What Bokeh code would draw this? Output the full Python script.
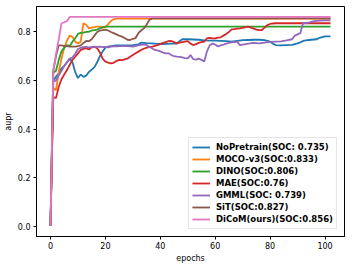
from bokeh.plotting import figure
from bokeh.models import Range1d, FixedTicker, CustomJSTickFormatter
from bokeh.embed import file_html
from bokeh.resources import INLINE

# ---- data ----
np_x = [0,1,2,3,4,5,6,7,8,9,10,11,12,13,14,15,16,17,18,19,20,21,22,24,26,28,30,32,33,35,38,41,44,46,47,48,50,52,54,56,58,60,62,64,66,68,70,72,74,76,78,80,81,82,84,86,88,89,90,91,92,93,95,97,98,99,100,102]
np_y = [0,0.60,0.615,0.63,0.65,0.66,0.675,0.69,0.675,0.635,0.61,0.625,0.615,0.62,0.635,0.645,0.655,0.675,0.70,0.72,0.735,0.74,0.742,0.745,0.745,0.745,0.746,0.749,0.756,0.754,0.752,0.750,0.752,0.752,0.762,0.770,0.770,0.769,0.768,0.765,0.764,0.764,0.763,0.762,0.760,0.763,0.766,0.767,0.768,0.768,0.766,0.760,0.752,0.746,0.745,0.746,0.747,0.750,0.753,0.757,0.763,0.765,0.768,0.770,0.776,0.779,0.782,0.782]

moco_x = [0,1,2,3,4,5,6,7,8,9,10,11,12,13,14,15,16,17,18,19,20,21,22,23,24,102]
moco_y = [0,0.57,0.56,0.636,0.69,0.735,0.765,0.785,0.78,0.76,0.753,0.76,0.836,0.83,0.815,0.818,0.82,0.822,0.822,0.818,0.82,0.832,0.845,0.852,0.855,0.855]

dino_x = [0,1,2,3,4,5,6,7,8,9,10,11,12,13,14,15,16,17,18,19,20,102]
dino_y = [0,0.632,0.64,0.685,0.72,0.735,0.746,0.742,0.76,0.774,0.792,0.796,0.797,0.800,0.801,0.806,0.808,0.81,0.815,0.82,0.822,0.822]

mae_x = list(range(0, 83)) + [102]
mae_y = [0,0.53,0.528,0.574,0.605,0.625,0.643,0.665,0.685,0.698,0.712,0.726,0.73,0.733,0.728,0.737,0.739,0.733,0.715,0.69,
         0.678,0.674,0.671,0.673,0.68,0.685,0.684,0.687,0.69,0.698,0.705,0.712,0.719,0.726,0.731,0.735,0.738,0.739,0.743,0.746,
         0.75,0.755,0.758,0.762,0.763,0.758,0.753,0.756,0.758,0.760,0.762,0.752,0.746,0.75,0.755,0.758,0.760,0.774,0.776,0.774,
         0.774,0.777,0.778,0.785,0.792,0.80,0.811,0.812,0.814,0.815,0.817,0.82,0.822,0.818,0.814,0.81,0.808,0.808,0.818,0.828,
         0.833,0.835,0.836,0.836]

gmml_x = [0,1,2,3,4,5,6,7,8,9,10,11,12,13,14,15,16,17,18,19,20,21,22,23,24,26,28,30,32,34,35,36,37,38,39,40,41,42,43,44,45,46,47,48,49,50,51,52,53,54,55,56,57,58,59,60,61,62,63,64,65,66,67,68,69,70,72,74,76,78,80,82,84,86,88,89,90,91,92,94,95,96,98,100,102]
gmml_y = [0,0.595,0.60,0.62,0.64,0.66,0.675,0.69,0.695,0.71,0.73,0.735,0.737,0.739,0.736,0.738,0.74,0.739,0.74,0.738,0.739,0.736,0.74,0.741,0.741,0.742,0.742,0.74,0.745,0.749,0.746,0.738,0.733,0.726,0.724,0.72,0.715,0.712,0.712,0.705,0.70,0.698,0.697,0.695,0.692,0.691,0.705,0.688,0.686,0.69,0.685,0.678,0.72,0.745,0.752,0.748,0.74,0.745,0.748,0.752,0.755,0.757,0.758,0.76,0.746,0.748,0.752,0.755,0.753,0.756,0.759,0.760,0.761,0.765,0.770,0.785,0.79,0.795,0.836,0.838,0.842,0.845,0.847,0.848,0.848]

sit_x = list(range(0, 38)) + [102]
sit_y = [0,0.64,0.70,0.745,0.745,0.742,0.742,0.74,0.74,0.74,0.742,0.745,0.755,0.763,0.762,0.77,0.785,0.80,0.806,0.808,
         0.81,0.806,0.80,0.795,0.79,0.785,0.781,0.775,0.768,0.767,0.772,0.775,0.795,0.806,0.815,0.83,0.85,0.856,0.856]

dicom_x = [0,1,2,3,4,5,6,7,102]
dicom_y = [0,0.64,0.71,0.77,0.835,0.84,0.845,0.862,0.862]

series_names = ["NoPretrain(SOC: 0.735)", "MOCO-v3(SOC:0.833)", "DINO(SOC:0.806)", "MAE(SOC:0.76)",
                "GMML(SOC: 0.739)", "SiT(SOC:0.827)", "DiCoM(ours)(SOC:0.856)"]
series_colors = ["#1f77b4", "#ff7f0e", "#2ca02c", "#d62728", "#9467bd", "#8c564b", "#e377c2"]
x_ticks = [0, 20, 40, 60, 80, 100]
y_ticks = [0.0, 0.2, 0.4, 0.6, 0.8]

FONT = "DejaVu Sans"

p = figure(frame_width=308, frame_height=230, output_backend="svg", toolbar_location=None,
           x_range=Range1d(-5.1, 107.1), y_range=Range1d(-0.043, 0.905),
           min_border_left=29, min_border_top=6, min_border_right=2, min_border_bottom=4)

xs = [np_x, moco_x, dino_x, mae_x, gmml_x, sit_x, dicom_x]
ys = [np_y, moco_y, dino_y, mae_y, gmml_y, sit_y, dicom_y]
for x, y, name, c in zip(xs, ys, series_names, series_colors):
    p.line(x, y, line_color=c, line_width=1.8, legend_label=name)

p.grid.visible = False
p.outline_line_color = "black"
p.outline_line_width = 1
p.background_fill_color = "white"
p.border_fill_color = "white"

for ax in (p.xaxis[0], p.yaxis[0]):
    ax.major_tick_out = 3
    ax.major_tick_in = 0
    ax.minor_tick_out = 0
    ax.minor_tick_in = 0
    ax.axis_line_color = "black"
    ax.major_tick_line_color = "black"
    ax.major_label_text_font = FONT
    ax.major_label_text_font_size = "8px"
    ax.major_label_text_color = "black"
    ax.axis_label_text_font = FONT
    ax.axis_label_text_font_size = "8px"
    ax.axis_label_text_font_style = "normal"
    ax.axis_label_text_color = "black"

p.xaxis.ticker = FixedTicker(ticks=x_ticks)
p.yaxis.ticker = FixedTicker(ticks=y_ticks)
p.yaxis.formatter = CustomJSTickFormatter(code="return tick.toFixed(1);")
p.xaxis.axis_label = "epochs"
p.yaxis.axis_label = "aupr"
p.xaxis.major_label_standoff = 2
p.xaxis.axis_label_standoff = 2
p.yaxis.major_label_standoff = 3
p.yaxis.axis_label_standoff = 2

lg = p.legend[0]
lg.location = "bottom_right"
lg.margin = 7
lg.padding = 3
lg.spacing = 0
lg.glyph_width = 18
lg.glyph_height = 12
lg.label_height = 12
lg.label_standoff = 6
lg.label_text_font = FONT
lg.label_text_font_size = "8.5px"
lg.label_text_font_style = "bold"
lg.label_text_color = "black"
lg.border_line_color = "#cccccc"
lg.border_line_width = 1
lg.background_fill_alpha = 0.8

open("out.html", "w").write(file_html(p, INLINE))
